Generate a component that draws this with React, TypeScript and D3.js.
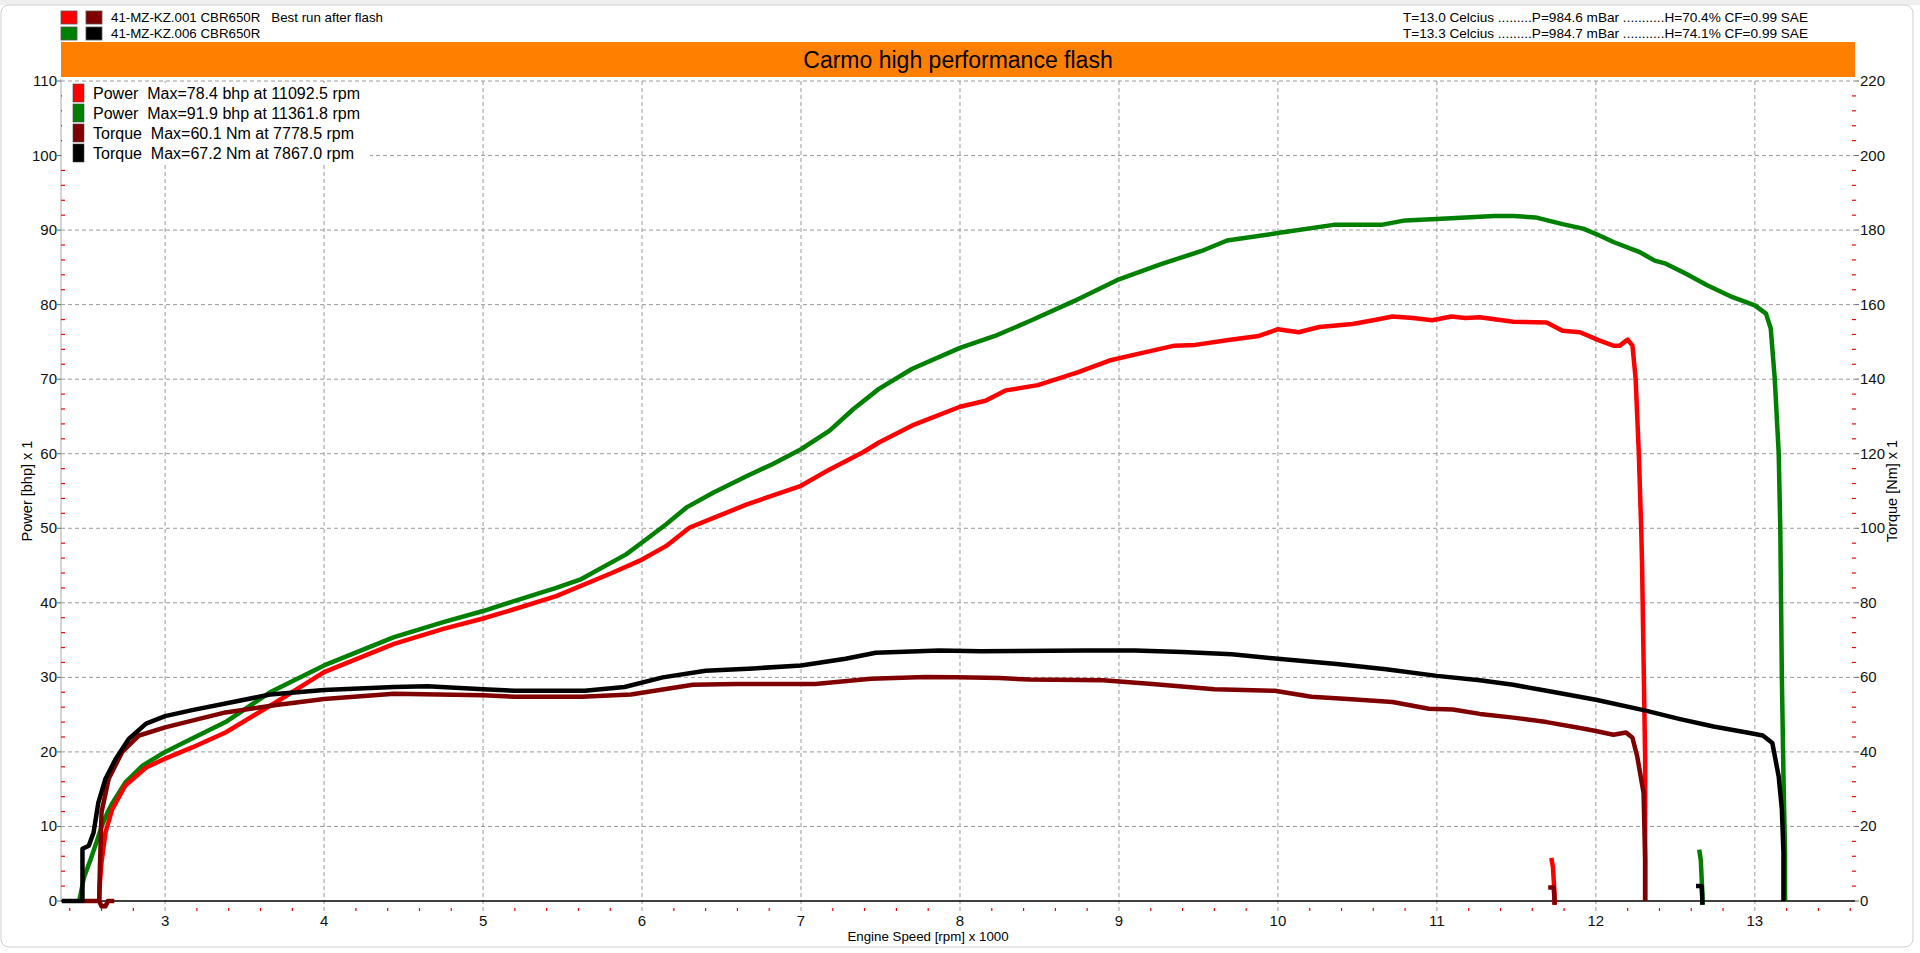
import React from 'react';
import * as d3 from 'd3';

// engine speed in 1000 rpm, power in bhp, torque in Nm
const rpmTicks = [3, 4, 5, 6, 7, 8, 9, 10, 11, 12, 13];
const powerTicks = [0, 10, 20, 30, 40, 50, 60, 70, 80, 90, 100, 110];
const torqueTicks = [0, 20, 40, 60, 80, 100, 120, 140, 160, 180, 200, 220];

const runNames = ['41-MZ-KZ.001 CBR650R   Best run after flash', '41-MZ-KZ.006 CBR650R'];
const runConditions = [
  'T=13.0 Celcius .........P=984.6 mBar ...........H=70.4% CF=0.99 SAE',
  'T=13.3 Celcius .........P=984.7 mBar ...........H=74.1% CF=0.99 SAE',
];
const maxLabels = [
  'Power  Max=78.4 bhp at 11092.5 rpm',
  'Power  Max=91.9 bhp at 11361.8 rpm',
  'Torque  Max=60.1 Nm at 7778.5 rpm',
  'Torque  Max=67.2 Nm at 7867.0 rpm',
];
const seriesColors = ['#ff0000', '#008000', '#800000', '#000000'];

const powerRun1: [number, number][] = [
  [2.585, 0], [2.59, 2.5], [2.6, 5.2], [2.625, 9.2], [2.667, 12.3], [2.75, 15.5], [2.88, 17.9],
  [3.0, 19.1], [3.17, 20.6], [3.38, 22.6], [3.7, 26.7], [4.0, 30.7], [4.44, 34.5], [4.75, 36.5],
  [5.0, 37.9], [5.19, 39.1], [5.46, 40.9], [5.81, 44.0], [6.0, 45.8], [6.15, 47.6], [6.3, 50.1],
  [6.45, 51.4], [6.66, 53.2], [7.0, 55.7], [7.18, 57.9], [7.39, 60.2], [7.49, 61.5], [7.7, 63.8],
  [8.0, 66.3], [8.16, 67.1], [8.29, 68.5], [8.49, 69.2], [8.74, 70.9], [8.94, 72.5], [9.12, 73.4],
  [9.35, 74.5], [9.48, 74.6], [9.7, 75.3], [9.88, 75.8], [10.0, 76.7], [10.13, 76.3], [10.26, 77.0],
  [10.47, 77.4], [10.6, 77.9], [10.72, 78.4], [10.85, 78.2], [10.97, 77.9], [11.09, 78.4],
  [11.18, 78.2], [11.27, 78.3], [11.48, 77.7], [11.69, 77.6], [11.79, 76.5], [11.9, 76.3],
  [12.02, 75.2], [12.11, 74.5], [12.15, 74.5], [12.2, 75.3], [12.23, 74.5], [12.25, 70.1],
  [12.27, 60.1], [12.285, 50.0], [12.29, 45.8], [12.3, 32.4], [12.31, 19.0], [12.31, 0],
];

const powerRun2: [number, number][] = [
  [2.46, 0], [2.49, 3.2], [2.53, 5.5], [2.57, 8.0], [2.6, 10.0], [2.64, 12.0], [2.67, 13.2],
  [2.75, 15.9], [2.86, 18.2], [3.0, 20.0], [3.17, 21.8], [3.38, 24.0], [3.66, 28.0], [4.0, 31.6],
  [4.44, 35.4], [4.75, 37.4], [5.0, 38.9], [5.19, 40.2], [5.46, 42.0], [5.61, 43.1], [5.9, 46.5],
  [6.0, 48.1], [6.15, 50.5], [6.28, 52.8], [6.45, 54.8], [6.66, 57.0], [6.82, 58.6], [7.0, 60.6],
  [7.18, 63.1], [7.33, 66.0], [7.49, 68.7], [7.7, 71.4], [8.0, 74.2], [8.22, 75.8], [8.45, 77.9],
  [8.72, 80.5], [9.0, 83.4], [9.26, 85.4], [9.52, 87.2], [9.68, 88.6], [10.0, 89.6], [10.35, 90.7],
  [10.65, 90.7], [10.8, 91.3], [11.0, 91.5], [11.18, 91.7], [11.36, 91.9], [11.48, 91.9],
  [11.62, 91.7], [11.79, 90.8], [11.92, 90.2], [12.03, 89.2], [12.11, 88.4], [12.28, 87.0],
  [12.37, 85.9], [12.44, 85.5], [12.57, 84.1], [12.7, 82.6], [12.86, 81.0], [13.0, 79.9],
  [13.07, 78.8], [13.1, 76.8], [13.125, 70.1], [13.15, 60.1], [13.16, 50.0], [13.17, 30.0],
  [13.18, 16.7], [13.19, 6.5], [13.19, 0],
];

const torqueRun1: [number, number][] = [
  [2.48, 0], [2.585, 0], [2.59, 9.4], [2.6, 23.8], [2.645, 32.8], [2.73, 40.0], [2.836, 44.4],
  [3.0, 46.6], [3.17, 48.4], [3.38, 50.6], [3.7, 52.6], [4.0, 54.2], [4.44, 55.6], [5.0, 55.2],
  [5.2, 54.8], [5.62, 54.8], [5.93, 55.4], [6.32, 58.0], [6.59, 58.2], [7.09, 58.2], [7.44, 59.6],
  [7.78, 60.1], [7.98, 60.0], [8.25, 59.8], [8.44, 59.4], [8.9, 59.2], [9.21, 58.2], [9.6, 56.8],
  [9.98, 56.4], [10.21, 54.8], [10.44, 54.2], [10.72, 53.4], [10.95, 51.6], [11.1, 51.4],
  [11.27, 50.2], [11.48, 49.2], [11.69, 48.0], [11.9, 46.4], [12.0, 45.6], [12.11, 44.6],
  [12.19, 45.2], [12.23, 43.8], [12.26, 38.8], [12.3, 29.0], [12.31, 11.2], [12.31, 0],
];

const torqueRun2: [number, number][] = [
  [2.35, 0], [2.48, 0], [2.48, 14.0], [2.52, 14.8], [2.55, 18.4], [2.58, 26.4], [2.625, 32.8],
  [2.69, 38.2], [2.77, 43.4], [2.88, 47.6], [3.0, 49.6], [3.17, 51.2], [3.38, 53.0], [3.66, 55.4],
  [4.0, 56.6], [4.44, 57.4], [4.65, 57.6], [5.0, 56.8], [5.2, 56.4], [5.64, 56.4], [5.89, 57.4],
  [6.13, 60.0], [6.4, 61.8], [6.7, 62.4], [7.0, 63.2], [7.28, 65.0], [7.47, 66.6], [7.87, 67.2],
  [8.13, 67.0], [8.79, 67.2], [9.1, 67.2], [9.4, 66.8], [9.71, 66.2], [10.0, 65.0], [10.37, 63.6],
  [10.68, 62.2], [11.0, 60.4], [11.27, 59.2], [11.48, 58.0], [11.69, 56.4], [12.0, 54.0],
  [12.3, 51.2], [12.53, 48.8], [12.74, 46.8], [12.95, 45.2], [13.05, 44.4], [13.11, 42.4],
  [13.15, 33.4], [13.17, 24.6], [13.18, 13.0], [13.18, 0],
];

// short stray traces the dyno software left behind
const powerRun1Stray: [number, number][] = [[11.72, 5.8], [11.73, 4.5], [11.74, 1.0], [11.74, -0.5]];
const powerRun2Stray: [number, number][] = [[12.65, 6.9], [12.66, 5.5], [12.67, 1.0], [12.67, -0.5]];
const torqueRun1Stray: [number, number][] = [[11.7, 3.6], [11.735, 3.6], [11.74, 0], [11.74, -1.0]];
const torqueRun2Stray: [number, number][] = [[12.63, 4.0], [12.665, 4.0], [12.67, 0], [12.67, -1.0]];
const torqueRun1Start: [number, number][] = [[2.585, 0], [2.6, -1.4], [2.625, -1.4], [2.64, 0], [2.68, 0]];

const W = 1920;
const H = 953;
const left = 61;
const right = 1855;
const top = 81;
const bottom = 901;

const narrow = '"Liberation Sans Narrow", "Arial Narrow", "Liberation Sans", Arial, sans-serif';
const regular = '"Liberation Sans", Arial, sans-serif';

const App: React.FC = () => {
  const x = d3.scaleLinear().domain([2.345, 13.63]).range([left, right]);
  const yP = d3.scaleLinear().domain([0, 110]).range([bottom, top]);
  const yT = d3.scaleLinear().domain([0, 220]).range([bottom, top]);

  const powerLine = d3.line<[number, number]>().x(d => x(d[0])).y(d => yP(d[1]));
  const torqueLine = d3.line<[number, number]>().x(d => x(d[0])).y(d => yT(d[1]));

  const rpmMinor = d3.range(12, 69).map(i => i / 5).filter(v => v % 1 !== 0 && x(v) > left && x(v) <= right);
  const powerMinor = d3.range(2, 110, 2).filter(v => v % 10 !== 0);
  const torqueMinor = d3.range(4, 220, 4).filter(v => v % 20 !== 0);

  const traces: { d: string | null; color: string }[] = [
    { d: powerLine(powerRun2), color: seriesColors[1] },
    { d: powerLine(powerRun1), color: seriesColors[0] },
    { d: torqueLine(torqueRun1), color: seriesColors[2] },
    { d: torqueLine(torqueRun1Start), color: seriesColors[2] },
    { d: torqueLine(torqueRun2), color: seriesColors[3] },
    { d: powerLine(powerRun1Stray), color: seriesColors[0] },
    { d: torqueLine(torqueRun1Stray), color: seriesColors[2] },
    { d: powerLine(powerRun2Stray), color: seriesColors[1] },
    { d: torqueLine(torqueRun2Stray), color: seriesColors[3] },
  ];

  return (
    <svg width={W} height={H} style={{ position: 'absolute', left: 0, top: 0, background: '#fff' }}>
      {/* window chrome */}
      <rect x={0} y={0} width={W} height={5} fill="#efefef" />
      <rect x={1} y={5} width={1912} height={942} rx={8} fill="#fff" stroke="#cfcfcf" />

      {/* run legend and conditions */}
      {runNames.map((name, i) => (
        <g key={name}>
          <rect x={61} y={11 + i * 16} width={16} height={13} fill={seriesColors[i]} stroke="#555" strokeWidth={0.8} />
          <rect x={86} y={11 + i * 16} width={16} height={13} fill={seriesColors[i + 2]} stroke="#555" strokeWidth={0.8} />
          <text x={111} y={22 + i * 16} fontFamily={narrow} fontSize={13.3} fill="#000" style={{ whiteSpace: 'pre' }}>
            {name}
          </text>
        </g>
      ))}
      {runConditions.map((c, i) => (
        <text key={c} x={1808} y={22 + i * 16} textAnchor="end" fontFamily={narrow} fontSize={13.6} fill="#000">
          {c}
        </text>
      ))}

      {/* title bar */}
      <rect x={left} y={42} width={right - left} height={35} fill="#ff8000" />
      <text x={(left + right) / 2} y={68} textAnchor="middle" fontFamily={regular} fontSize={23} fill="#000">
        Carmo high performance flash
      </text>

      {/* grid */}
      {powerTicks.filter(v => v > 0).map(v => (
        <line key={`hg${v}`} x1={left} x2={right} y1={yP(v)} y2={yP(v)} stroke="#9a9a9a" strokeDasharray="4,3" />
      ))}
      {rpmTicks.map(v => (
        <line key={`vg${v}`} x1={x(v)} x2={x(v)} y1={top} y2={bottom + 10} stroke="#9a9a9a" strokeDasharray="4,3" />
      ))}

      {/* axes */}
      <line x1={left} x2={left} y1={top - 2} y2={bottom} stroke="#a8a8a8" />
      <line x1={left} x2={right} y1={bottom} y2={bottom} stroke="#000" strokeWidth={1.5} />
      {powerMinor.map(v => (
        <line key={`pm${v}`} x1={left} x2={left + 4} y1={yP(v)} y2={yP(v)} stroke="#ff0000" strokeWidth={1.2} />
      ))}
      {torqueMinor.map(v => (
        <line key={`tm${v}`} x1={right - 3} x2={right + 1} y1={yT(v)} y2={yT(v)} stroke="#ff0000" strokeWidth={1.2} />
      ))}
      {rpmMinor.map(v => (
        <line key={`rm${v}`} x1={x(v)} x2={x(v)} y1={bottom + 7} y2={bottom + 10} stroke="#ff0000" strokeWidth={1.2} />
      ))}
      {powerTicks.map(v => (
        <g key={`pt${v}`}>
          <line x1={left - 4} x2={left} y1={yP(v)} y2={yP(v)} stroke="#666" />
          <text x={left - 4} y={yP(v) + 5} textAnchor="end" fontFamily={narrow} fontSize={15} fill="#111">
            {v}
          </text>
        </g>
      ))}
      {torqueTicks.map(v => (
        <g key={`tt${v}`}>
          <line x1={right} x2={right + 4} y1={yT(v)} y2={yT(v)} stroke="#666" />
          <text x={right + 5} y={yT(v) + 5} fontFamily={narrow} fontSize={15} fill="#111">
            {v}
          </text>
        </g>
      ))}
      {rpmTicks.map(v => (
        <text key={`rt${v}`} x={x(v)} y={926} textAnchor="middle" fontFamily={narrow} fontSize={15} fill="#111">
          {v}
        </text>
      ))}

      {/* axis titles */}
      <text transform={`translate(32,${(top + bottom) / 2}) rotate(-90)`} textAnchor="middle" fontFamily={narrow} fontSize={14.5} fill="#000">
        Power [bhp] x 1
      </text>
      <text transform={`translate(1897,${(top + bottom) / 2}) rotate(-90)`} textAnchor="middle" fontFamily={narrow} fontSize={14.5} fill="#000">
        Torque [Nm] x 1
      </text>
      <text x={928} y={941} textAnchor="middle" fontFamily={narrow} fontSize={13.3} fill="#000">
        Engine Speed [rpm] x 1000
      </text>

      {/* curves */}
      {traces.map((t, i) => (
        <path key={i} d={t.d ?? ''} fill="none" stroke={t.color} strokeWidth={4.5} strokeLinejoin="round" strokeLinecap="butt" />
      ))}

      {/* max value legend */}
      <rect x={left + 1} y={83} width={308} height={80} fill="#fff" />
      {maxLabels.map((label, i) => (
        <g key={label}>
          <rect x={73} y={84 + i * 20} width={11} height={18} fill={seriesColors[i]} stroke="#444" strokeWidth={0.6} />
          <text x={93} y={99 + i * 20} fontFamily={regular} fontSize={16} fill="#000" style={{ whiteSpace: 'pre' }}>
            {label}
          </text>
        </g>
      ))}
    </svg>
  );
};

export default App;
